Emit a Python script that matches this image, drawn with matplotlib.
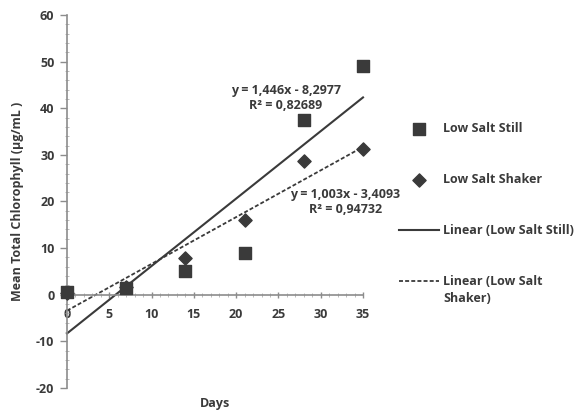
import matplotlib
matplotlib.use("Agg")
import matplotlib.pyplot as plt
from matplotlib.ticker import MultipleLocator
import numpy as np

plt.rcParams['font.family'] = ['Open Sans', 'DejaVu Sans']
plt.rcParams['axes.unicode_minus'] = False

days = [0, 7, 14, 21, 28, 35]
still = [0.5, 1.5, 5.0, 9.0, 37.5, 49.0]
shaker = [0.4, 1.6, 7.8, 16.0, 28.6, 31.2]

# trendline coefficients as shown on the chart
still_fit = (1.446, -8.2977, 0.82689)
shaker_fit = (1.003, -3.4093, 0.94732)

xticks = [0, 5, 10, 15, 20, 25, 30, 35]
yticks = [-20, -10, 0, 10, 20, 30, 40, 50, 60]

dark = '#3a3a3a'
grey = '#8c8c8c'
fs = 9

fig = plt.figure(figsize=(5.81, 4.15), dpi=100)
ax = fig.add_axes([0.1153, 0.065, 0.5095, 0.899])

ax.scatter(days, still, marker='s', s=70, color=dark, zorder=3, clip_on=False,
           label='Low Salt Still')
ax.scatter(days, shaker, marker='D', s=45, color=dark, zorder=4, clip_on=False,
           label='Low Salt Shaker')

xx = np.array([0, 35])
ax.plot(xx, still_fit[0] * xx + still_fit[1], color=dark, lw=1.5, clip_on=False,
        label='Linear (Low Salt Still)')
ax.plot(xx, shaker_fit[0] * xx + shaker_fit[1], color=dark, lw=1.3, ls=(0, (2.2, 1.2)),
        clip_on=False, label='Linear (Low Salt')

def eq_text(fit):
    a, b, r2 = fit
    s = 'y = {:.3f}x - {:.4f}\nR² = {:.5f}'.format(a, -b, r2)
    return s.replace('.', ',')

ax.text(25.9, 42.2, eq_text(still_fit), ha='center', va='center', fontsize=fs,
        fontweight='bold', color=dark, linespacing=1.2)
ax.text(32.9, 19.9, eq_text(shaker_fit), ha='center', va='center', fontsize=fs,
        fontweight='bold', color=dark, linespacing=1.2)

ax.set_xlim(0, 35)
ax.set_ylim(-20, 60)
ax.spines['top'].set_visible(False)
ax.spines['right'].set_visible(False)
ax.spines['bottom'].set_position(('data', 0))
for sp in ('left', 'bottom'):
    ax.spines[sp].set_color(grey)
    ax.spines[sp].set_linewidth(1.2)

ax.set_xticks(xticks)
ax.set_xticklabels([str(v) for v in xticks], fontweight='bold')
ax.set_yticks(yticks)
ax.set_yticklabels([str(v) for v in yticks], fontweight='bold')
ax.xaxis.set_minor_locator(MultipleLocator(1))
ax.yaxis.set_minor_locator(MultipleLocator(2))
ax.tick_params(axis='both', which='major', color=grey, labelcolor=dark,
               labelsize=fs, width=1)
ax.tick_params(axis='x', which='major', direction='inout', length=5, pad=7)
ax.tick_params(axis='y', which='major', direction='out', length=5, pad=4)
ax.tick_params(axis='both', which='minor', color='#b0b0b0', direction='inout', length=3)

ax.set_xlabel('Days', fontsize=fs, fontweight='bold', color=dark)
ax.xaxis.set_label_coords(0.5, -0.025)
ax.set_ylabel('Mean Total Chlorophyll (µg/mL )', fontsize=fs, fontweight='bold',
              color=dark)
ax.yaxis.set_label_coords(-0.145, 0.50)

leg = ax.legend(loc='upper left', bbox_to_anchor=(1.12, 0.713), frameon=False,
                borderaxespad=0, borderpad=0, labelspacing=3.05, handlelength=3.2,
                handletextpad=0.35, labelcolor=dark,
                prop={'weight': 'bold', 'size': fs})

# second line of the last legend label, placed under its first line
fig.canvas.draw()
bb = leg.get_texts()[3].get_window_extent().transformed(fig.transFigure.inverted())
fig.text(bb.x0, bb.y0 - 0.008, 'Shaker)', ha='left', va='top', fontsize=fs,
         fontweight='bold', color=dark)

fig.savefig('out.png', dpi=100)
